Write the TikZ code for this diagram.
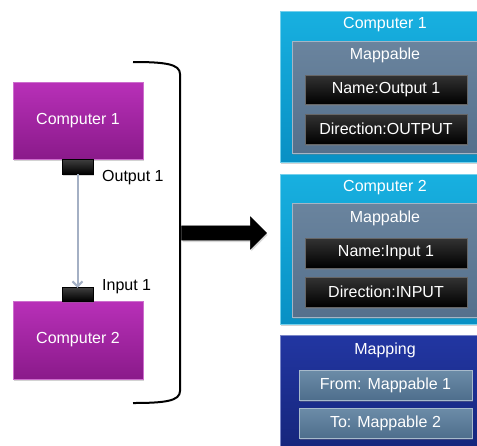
\documentclass[tikz,border=0pt]{standalone}
\usepackage{fontspec}
\setmainfont{Liberation Sans}
\usetikzlibrary{shapes.arrows,shadows,arrows.meta}
\definecolor{magtop}{HTML}{B830B8}
\definecolor{magbot}{HTML}{8A1A8A}
\definecolor{cyantop}{HTML}{18B0E0}
\definecolor{cyanbot}{HTML}{0890C4}
\definecolor{slatetop}{HTML}{6A849E}
\definecolor{slatebot}{HTML}{55708C}
\definecolor{navytop}{HTML}{2236A2}
\definecolor{navybot}{HTML}{142478}
\definecolor{btntop}{HTML}{6C8CA8}
\definecolor{btnbot}{HTML}{4E6E8C}
\definecolor{linkgray}{HTML}{A4B0C4}
\tikzset{
  txt/.style={font=\fontsize{16}{19}\selectfont},
  basebox/.style={rectangle, inner sep=0pt, txt, text=white,
    drop shadow={opacity=0.35, shadow xshift=1pt, shadow yshift=-2pt}},
  compbox/.style={basebox, top color=magtop, bottom color=magbot, draw=magtop!70!white, line width=0.6pt},
  portbox/.style={rectangle, inner sep=0pt, top color=black!75, bottom color=black, draw=black,
    drop shadow={opacity=0.3, shadow xshift=1pt, shadow yshift=-1.5pt}},
  panelbox/.style={basebox, top color=cyantop, bottom color=cyanbot, draw=cyantop!60!white, line width=0.6pt},
  mapbox/.style={basebox, top color=slatetop, bottom color=slatebot, draw=slatetop!60!white, line width=0.6pt},
  blackbox/.style={basebox, top color=black!80, bottom color=black, draw=black!60, line width=0.5pt},
  navybox/.style={basebox, top color=navytop, bottom color=navybot, draw=navytop!60!white, line width=0.6pt},
  btnbox/.style={basebox, top color=btntop, bottom color=btnbot, draw=btntop!60!white, line width=0.6pt},
  lbl/.style={txt, text=black, anchor=west, inner sep=0pt},
  wlbl/.style={txt, text=white, inner sep=0pt},
}
\begin{document}
\begin{tikzpicture}[x=1pt,y=-1pt]
\useasboundingbox (0,0) rectangle (477,445);
\fill[white] (0,0) rectangle (477,445);
\clip (0,0) rectangle (477,445);

% left side
\node[compbox, minimum width=130pt, minimum height=77pt] (c1) at (78,120.5) {Computer 1};
\node[compbox, minimum width=130pt, minimum height=78pt] (c2) at (78,340) {Computer 2};
\node[portbox, minimum width=31pt, minimum height=15pt] (pout) at (77.5,166.5) {};
\node[portbox, minimum width=31pt, minimum height=14pt] (pin) at (77.5,294) {};
\node[lbl] (lout) at (102,178) {Output 1};
\node[lbl] (lin) at (102,287) {Input 1};
\draw[linkgray, line width=2pt, -{Straight Barb[length=5pt,width=10pt]}] (pout.south) -- ([yshift=-1pt]pin.north);

% bracket
\coordinate (bt) at (133,62);
\coordinate (bb) at (133,403);
\draw[black, line width=2pt] (bt) .. controls (165,62) and (180,64) .. (180,74)
  -- (180,391) .. controls (180,401) and (165,403) .. (bb);

% big arrow
\node[single arrow, fill=black, draw=black, minimum height=85pt,
  single arrow head extend=9pt, single arrow head indent=0pt, inner xsep=0pt, inner ysep=7pt,
  drop shadow={opacity=0.3, shadow xshift=1pt, shadow yshift=-2pt}] (big) at (220.5,233) {};

% right panel 1
\node[panelbox, minimum width=210pt, minimum height=151pt] (p1) at (385,86.5) {};
\node[wlbl] (p1t) at (385,25) {Computer 1};
\node[mapbox, minimum width=186pt, minimum height=112pt] (m1) at (385,97) {};
\node[wlbl] (m1t) at (385,55) {Mappable};
\node[blackbox, minimum width=162pt, minimum height=29pt] (n1) at (386,89.5) {Name:Output 1};
\node[blackbox, minimum width=162pt, minimum height=30pt] (d1) at (386,129) {Direction:OUTPUT};

% right panel 2
\node[panelbox, minimum width=210pt, minimum height=150pt] (p2) at (385,249) {};
\node[wlbl] (p2t) at (385,188) {Computer 2};
\node[mapbox, minimum width=186pt, minimum height=114pt] (m2) at (385,260) {};
\node[wlbl] (m2t) at (385,218) {Mappable};
\node[blackbox, minimum width=162pt, minimum height=30pt] (n2) at (386,253) {Name:Input 1};
\node[blackbox, minimum width=162pt, minimum height=30pt] (d2) at (386,292) {Direction:INPUT};

% mapping panel
\node[navybox, minimum width=210pt, minimum height=125pt] (mp) at (385,397.5) {};
\node[wlbl] (mpt) at (385,350) {Mapping};
\node[btnbox, minimum width=173pt, minimum height=30pt] (from) at (385.5,385) {From: Mappable 1};
\node[btnbox, minimum width=173pt, minimum height=30pt] (to) at (385.5,423) {To: Mappable 2};
\end{tikzpicture}
\end{document}
